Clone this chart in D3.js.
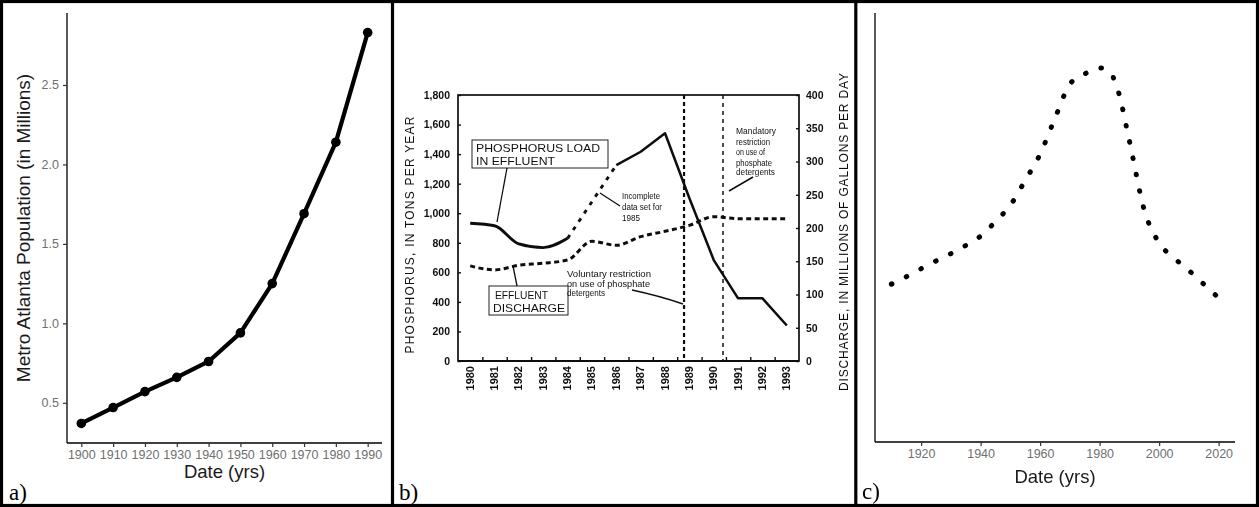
<!DOCTYPE html>
<html>
<head>
<meta charset="utf-8">
<script src="https://cdn.jsdelivr.net/npm/d3@7"></script>
<style>
  html, body { margin: 0; padding: 0; background: #fff; }
  svg { display: block; }
</style>
</head>
<body>
<svg id="fig" width="1259" height="507"></svg>
<script>
// ---------- a) Metro Atlanta population ----------
const popYears = [1900, 1910, 1920, 1930, 1940, 1950, 1960, 1970, 1980, 1990];
const popMillions = [0.37, 0.47, 0.57, 0.66, 0.76, 0.94, 1.25, 1.69, 2.14, 2.83];
const popYTicks = [0.5, 1.0, 1.5, 2.0, 2.5];

// ---------- b) Phosphorus load and effluent discharge ----------
const effYears = [1980, 1981, 1982, 1983, 1984, 1985, 1986, 1987, 1988, 1989, 1990, 1991, 1992, 1993];
const dischargeMgd = [143, 137, 144, 147, 152, 180, 174, 187, 195, 204, 217, 214, 214, 214];
const phosEarlyYears = [1980, 1981, 1982, 1983, 1984];
const phosEarlyTons = [932, 915, 792, 767, 830];
const phosGapYears = [1984, 1986];
const phosGapTons = [830, 1326];
const phosLateYears = [1986, 1987, 1988, 1989, 1990, 1991, 1992, 1993];
const phosLateTons = [1326, 1416, 1541, 1101, 683, 424, 424, 240];
const restrictionYears = [1988.78, 1990.38];
const tonsTicks = [0, 200, 400, 600, 800, 1000, 1200, 1400, 1600, 1800];
const mgdTicks = [0, 50, 100, 150, 200, 250, 300, 350, 400];

// ---------- c) Projected trend ----------
const trendYears = [1910, 1915, 1920, 1925, 1930, 1935, 1940, 1945, 1950, 1955, 1960, 1965, 1970,
                    1975, 1980, 1984, 1985, 1986, 1990, 1995, 2000, 2005, 2010, 2015, 2020];
const trendLevel = [36.8, 38.5, 40.4, 42.2, 43.9, 45.8, 48.0, 51.4, 55.2, 61.0, 67.1, 75.5, 83.4,
                    85.8, 87.2, 86.0, 84.1, 82.3, 70.2, 54.1, 46.4, 42.9, 40.0, 36.8, 33.6];
const trendXTicks = [1920, 1940, 1960, 1980, 2000, 2020];

const svg = d3.select("#fig");
const SANS = "Liberation Sans, Arial, sans-serif";
const SERIF = "Liberation Serif, Times New Roman, serif";

// helper: ggplot-style 5% expansion of a data extent
function expand(ext, f = 0.05) {
  const r = ext[1] - ext[0];
  return [ext[0] - r * f, ext[1] + r * f];
}

// ======================= Panel a =======================
{
  const g = svg.append("g");
  const x = d3.scaleLinear().domain(expand(d3.extent(popYears))).range([67, 382]);
  const y = d3.scaleLinear().domain(expand(d3.extent(popMillions))).range([443, 13]);

  const xAxis = d3.axisBottom(x).tickValues(popYears).tickFormat(d3.format("d")).tickSize(4).tickPadding(3);
  const yAxis = d3.axisLeft(y).tickValues(popYTicks).tickFormat(d3.format(".1f")).tickSize(4).tickPadding(4);

  const gx = g.append("g").attr("transform", "translate(0,443)").call(xAxis);
  const gy = g.append("g").attr("transform", "translate(67,0)").call(yAxis);
  [gx, gy].forEach(ax => {
    ax.select(".domain").attr("stroke", "#000").attr("stroke-width", 1.3);
    ax.selectAll(".tick line").attr("stroke", "#333").attr("stroke-width", 1.2);
    ax.selectAll(".tick text").attr("fill", "#707070").style("font-family", SANS).style("font-size", "12.5px");
  });
  gx.select(".domain").attr("d", "M67,0H382");
  gy.select(".domain").attr("d", "M0,13V443");

  const data = popYears.map((yr, i) => ({ yr, v: popMillions[i] }));
  g.append("path").datum(data)
    .attr("fill", "none").attr("stroke", "#000").attr("stroke-width", 4.2)
    .attr("stroke-linejoin", "round")
    .attr("d", d3.line().x(d => x(d.yr)).y(d => y(d.v)));
  g.selectAll("circle.pt").data(data).join("circle")
    .attr("cx", d => x(d.yr)).attr("cy", d => y(d.v)).attr("r", 4.8).attr("fill", "#000");

  g.append("text").attr("x", 224.5).attr("y", 478).attr("text-anchor", "middle")
    .style("font-family", SANS).style("font-size", "18.5px").attr("fill", "#1a1a1a").text("Date (yrs)");
  g.append("text").attr("transform", "translate(30,228) rotate(-90)").attr("text-anchor", "middle")
    .style("font-family", SANS).style("font-size", "19px").attr("fill", "#1a1a1a")
    .text("Metro Atlanta Population (in Millions)");
  g.append("text").attr("x", 9).attr("y", 500)
    .style("font-family", SERIF).style("font-size", "23px").attr("fill", "#000").text("a)");
}

// ======================= Panel b =======================
{
  const defs = svg.append("defs");
  defs.append("filter").attr("id", "soft").append("feGaussianBlur").attr("stdDeviation", 0.45);
  const g = svg.append("g").attr("filter", "url(#soft)");

  const x = d3.scaleLinear().domain([1979.5, 1993.5]).range([458, 799]);
  const yL = d3.scaleLinear().domain([0, 1800]).range([361, 95]);
  const yR = d3.scaleLinear().domain([0, 400]).range([361, 95]);

  // frame
  g.append("rect").attr("x", 458).attr("y", 95).attr("width", 341).attr("height", 266)
    .attr("fill", "none").attr("stroke", "#111").attr("stroke-width", 1.7);

  // left axis (tons)
  const axL = d3.axisLeft(yL).tickValues(tonsTicks).tickFormat(d3.format(",")).tickSize(-3).tickPadding(8);
  const gl = g.append("g").attr("transform", "translate(458,0)").call(axL);
  // right axis (million gallons per day)
  const axR = d3.axisRight(yR).tickValues(mgdTicks).tickSize(-3).tickPadding(7);
  const gr = g.append("g").attr("transform", "translate(799,0)").call(axR);
  // bottom axis: ticks on year boundaries, labels at year centres
  const axB = d3.axisBottom(x).tickValues(effYears.slice(1).map(v => v - 0.5)).tickSize(-4).tickFormat("");
  const gb = g.append("g").attr("transform", "translate(0,361)").call(axB);
  [gl, gr, gb].forEach(ax => {
    ax.select(".domain").remove();
    ax.selectAll(".tick line").attr("stroke", "#111").attr("stroke-width", 1.4);
    ax.selectAll(".tick text").attr("fill", "#111").style("font-family", SANS)
      .style("font-size", "10.5px").style("font-weight", "bold");
  });
  g.append("line").attr("x1", 458).attr("x2", 799).attr("y1", 361).attr("y2", 361)
    .attr("stroke", "#111").attr("stroke-width", 2.2);

  g.selectAll("text.yr").data(effYears).join("text").attr("class", "yr")
    .attr("transform", d => `translate(${x(d) + 3.5},366) rotate(-90)`)
    .attr("text-anchor", "end")
    .style("font-family", SANS).style("font-size", "11px").style("font-weight", "bold")
    .attr("fill", "#111").text(d => d);

  // restriction markers
  g.append("line").attr("x1", x(restrictionYears[0])).attr("x2", x(restrictionYears[0]))
    .attr("y1", 95).attr("y2", 361).attr("stroke", "#111").attr("stroke-width", 2.2)
    .attr("stroke-dasharray", "4,3");
  g.append("line").attr("x1", x(restrictionYears[1])).attr("x2", x(restrictionYears[1]))
    .attr("y1", 95).attr("y2", 361).attr("stroke", "#111").attr("stroke-width", 1.5)
    .attr("stroke-dasharray", "4,4");

  // effluent discharge (right axis)
  const dis = effYears.map((yr, i) => ({ yr, v: dischargeMgd[i] }));
  g.append("path").datum(dis).attr("fill", "none").attr("stroke", "#111")
    .attr("stroke-width", 3).attr("stroke-dasharray", "5,3.5")
    .attr("d", d3.line().curve(d3.curveMonotoneX).x(d => x(d.yr)).y(d => yR(d.v)));

  // phosphorus load (left axis)
  const lineL = d3.line().x(d => x(d.yr)).y(d => yL(d.v));
  const early = phosEarlyYears.map((yr, i) => ({ yr, v: phosEarlyTons[i] }));
  const gap = phosGapYears.map((yr, i) => ({ yr, v: phosGapTons[i] }));
  const late = phosLateYears.map((yr, i) => ({ yr, v: phosLateTons[i] }));
  g.append("path").datum(early).attr("fill", "none").attr("stroke", "#111")
    .attr("stroke-width", 2.9).attr("stroke-linejoin", "round")
    .attr("d", d3.line().curve(d3.curveMonotoneX).x(d => x(d.yr)).y(d => yL(d.v)));
  g.append("path").datum(gap).attr("fill", "none").attr("stroke", "#111")
    .attr("stroke-width", 2.9).attr("stroke-dasharray", "4,6").attr("d", lineL);
  g.append("path").datum(late).attr("fill", "none").attr("stroke", "#111")
    .attr("stroke-width", 2.5).attr("stroke-linejoin", "round").attr("d", lineL);

  const txt = (x0, y0, s, size, len) => {
    const t = g.append("text").attr("x", x0).attr("y", y0)
      .style("font-family", SANS).style("font-size", size + "px").attr("fill", "#111").text(s);
    if (len) t.attr("textLength", len).attr("lengthAdjust", "spacingAndGlyphs");
    return t;
  };
  const seg = (pts, w = 1.3) => g.append("path").attr("d", d3.line()(pts))
    .attr("fill", "none").attr("stroke", "#111").attr("stroke-width", w);

  // labelled boxes
  g.append("rect").attr("x", 472).attr("y", 140).attr("width", 136).attr("height", 28)
    .attr("fill", "#fff").attr("stroke", "#222").attr("stroke-width", 1);
  txt(476, 151.5, "PHOSPHORUS LOAD", 11, 124);
  txt(476, 164.5, "IN EFFLUENT", 11, 79);
  seg([[507, 168], [497, 222]]);

  g.append("rect").attr("x", 489).attr("y", 286).attr("width", 79).attr("height", 29)
    .attr("fill", "#fff").attr("stroke", "#222").attr("stroke-width", 1);
  txt(495, 299, "EFFLUENT", 11, 53);
  txt(493, 312, "DISCHARGE", 11, 72);
  seg([[517, 286], [513, 266]]);

  // notes
  txt(622, 199, "Incomplete", 9.5, 38);
  txt(622, 210, "data set for", 9.5, 40);
  txt(622, 221, "1985", 9.5, 18);
  seg([[600, 193], [620, 206]]);

  txt(567, 277, "Voluntary restriction", 9.5, 84);
  txt(567, 287, "on use of phosphate", 9.5, 83);
  txt(567, 296, "detergents", 9.5, 38);
  g.append("path").attr("d", "M632,290 Q660,296 683,304")
    .attr("fill", "none").attr("stroke", "#111").attr("stroke-width", 1.5);

  txt(736, 134, "Mandatory", 9.5, 40);
  txt(736, 145, "restriction", 9.5, 34);
  txt(736, 155, "on use of", 9.5, 29);
  txt(736, 166, "phosphate", 9.5, 36);
  txt(736, 175, "detergents", 9.5, 39);
  seg([[753, 177], [729, 191]], 1.5);

  // axis titles
  g.append("text").attr("transform", "translate(414,235) rotate(-90)").attr("text-anchor", "middle")
    .style("font-family", SANS).style("font-size", "12px").attr("fill", "#111")
    .attr("textLength", 237).attr("lengthAdjust", "spacing")
    .text("PHOSPHORUS,  IN TONS PER YEAR");
  g.append("text").attr("transform", "translate(848,232) rotate(-90)").attr("text-anchor", "middle")
    .style("font-family", SANS).style("font-size", "12px").attr("fill", "#111")
    .attr("textLength", 318).attr("lengthAdjust", "spacing")
    .text("DISCHARGE,  IN MILLIONS OF GALLONS PER DAY");

  svg.append("text").attr("x", 399).attr("y", 500)
    .style("font-family", SERIF).style("font-size", "23px").attr("fill", "#000").text("b)");
}

// ======================= Panel c =======================
{
  const g = svg.append("g");
  const x = d3.scaleLinear().domain(expand(d3.extent(trendYears))).range([875, 1235]);
  const y = d3.scaleLinear().domain([0, 100]).range([442, 13]);

  const xAxis = d3.axisBottom(x).tickValues(trendXTicks).tickFormat(d3.format("d")).tickSize(4).tickPadding(3);
  const gx = g.append("g").attr("transform", "translate(0,442)").call(xAxis);
  gx.select(".domain").attr("d", "M875,0H1235").attr("stroke", "#000").attr("stroke-width", 1.3);
  gx.selectAll(".tick line").attr("stroke", "#333").attr("stroke-width", 1.2);
  gx.selectAll(".tick text").attr("fill", "#707070").style("font-family", SANS).style("font-size", "12.5px");
  g.append("line").attr("x1", 875).attr("x2", 875).attr("y1", 13).attr("y2", 442)
    .attr("stroke", "#000").attr("stroke-width", 1.3);

  const data = trendYears.map((yr, i) => ({ yr, v: trendLevel[i] }));
  g.append("path").datum(data)
    .attr("fill", "none").attr("stroke", "#000").attr("stroke-width", 5)
    .attr("stroke-linecap", "round").attr("stroke-dasharray", "0.6,16")
    .attr("d", d3.line().curve(d3.curveMonotoneX).x(d => x(d.yr)).y(d => y(d.v)));

  g.append("text").attr("x", 1055).attr("y", 483).attr("text-anchor", "middle")
    .style("font-family", SANS).style("font-size", "18.5px").attr("fill", "#1a1a1a").text("Date (yrs)");
  g.append("text").attr("x", 862).attr("y", 499)
    .style("font-family", SERIF).style("font-size", "23px").attr("fill", "#000").text("c)");
}

// ---------- panel frames ----------
svg.append("rect").attr("x", 1.5).attr("y", 1.5).attr("width", 1256).attr("height", 504)
  .attr("fill", "none").attr("stroke", "#000").attr("stroke-width", 3.2);
svg.append("line").attr("x1", 392.5).attr("x2", 392.5).attr("y1", 0).attr("y2", 507)
  .attr("stroke", "#000").attr("stroke-width", 3.2);
svg.append("line").attr("x1", 855.8).attr("x2", 855.8).attr("y1", 0).attr("y2", 507)
  .attr("stroke", "#000").attr("stroke-width", 3.2);
</script>
</body>
</html>
